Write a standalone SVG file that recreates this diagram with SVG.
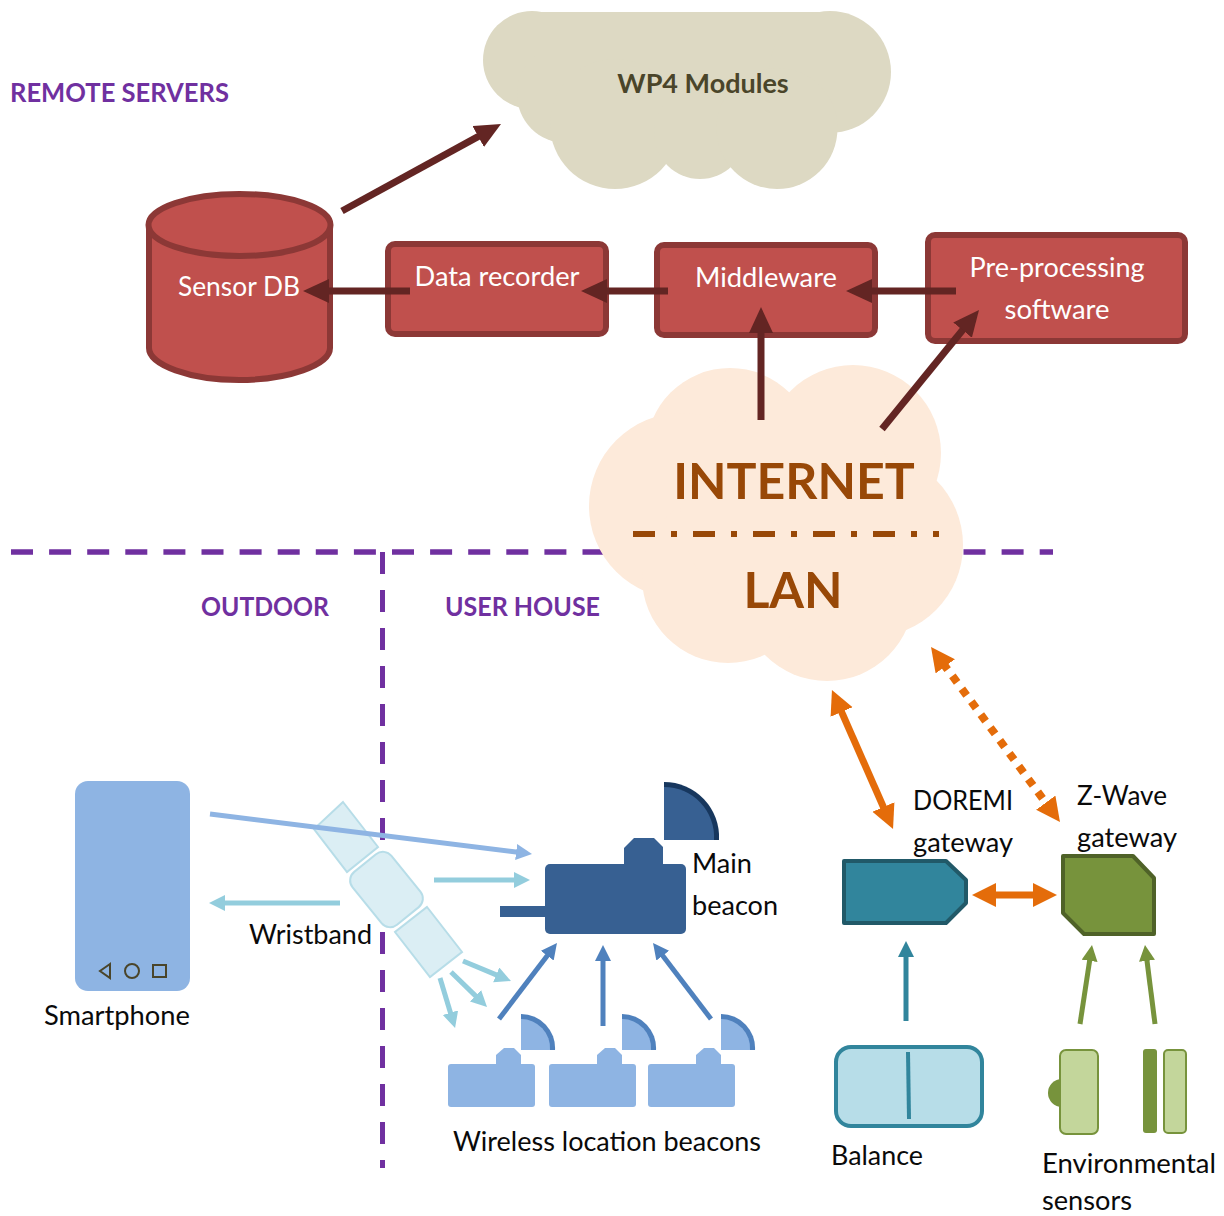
<svg xmlns="http://www.w3.org/2000/svg" width="1224" height="1216" viewBox="0 0 1224 1216">
<style>
text{font-family:"Lato","Carlito","Open Sans",sans-serif;font-size:27px;fill:#0a0a0a}
.w{fill:#fff;text-anchor:middle}
.p{fill:#7030a0;font-weight:700}
.red{fill:#c0504d;stroke:#8c3836;stroke-width:6}
.dm{fill:none;stroke:#632523;stroke-width:7}
.lb{fill:none;stroke:#93cddd;stroke-width:5}
.bl{fill:none;stroke:#4f81bd;stroke-width:5}
.gr{fill:none;stroke:#77933c;stroke-width:5}
.or{fill:none;stroke:#e46c0a;stroke-width:7}
.band{fill:#dbeef4;stroke:#b7dde8;stroke-width:2}
.lan{font-size:50px;font-weight:700;fill:#984807;text-anchor:middle}
</style>
<defs>
<marker id="mD" markerUnits="userSpaceOnUse" markerWidth="30" markerHeight="26" refX="4" refY="12" orient="auto"><path d="M0 0L26 12L0 24z" fill="#632523"/></marker>
<marker id="mL" markerUnits="userSpaceOnUse" markerWidth="20" markerHeight="20" refX="4" refY="8" orient="auto"><path d="M0 0L16 8L0 16z" fill="#93cddd"/></marker>
<marker id="mB" markerUnits="userSpaceOnUse" markerWidth="20" markerHeight="20" refX="4" refY="8" orient="auto"><path d="M0 0L16 8L0 16z" fill="#4f81bd"/></marker>
<marker id="mP" markerUnits="userSpaceOnUse" markerWidth="20" markerHeight="20" refX="4" refY="8" orient="auto"><path d="M0 0L16 8L0 16z" fill="#8eb4e3"/></marker>
<marker id="mT" markerUnits="userSpaceOnUse" markerWidth="20" markerHeight="20" refX="4" refY="8" orient="auto"><path d="M0 0L16 8L0 16z" fill="#31859c"/></marker>
<marker id="mG" markerUnits="userSpaceOnUse" markerWidth="20" markerHeight="20" refX="4" refY="8" orient="auto"><path d="M0 0L16 8L0 16z" fill="#77933c"/></marker>
<marker id="mO" markerUnits="userSpaceOnUse" markerWidth="26" markerHeight="26" refX="4" refY="12" orient="auto-start-reverse"><path d="M0 0L24 12L0 24z" fill="#e46c0a"/></marker>
</defs>

<g id="section-lines" fill="none" stroke="#7030a0">
<path stroke-width="5.500" stroke-dasharray="22 16.100" d="M11 552H1053"/>
<path stroke-width="5" stroke-dasharray="22 16" d="M382.500 552V1168"/>
</g>
<text class="p" x="10" y="102" textLength="219" lengthAdjust="spacingAndGlyphs">REMOTE SERVERS</text>
<text class="p" x="201" y="616" textLength="128" lengthAdjust="spacingAndGlyphs">OUTDOOR</text>
<text class="p" x="445" y="616" textLength="155" lengthAdjust="spacingAndGlyphs">USER HOUSE</text>

<g id="wp4-modules" fill="#ddd9c3">
<circle cx="532" cy="60" r="49"/><circle cx="566" cy="94" r="49"/>
<rect x="535" y="12" width="295" height="118"/>
<circle cx="830" cy="72" r="61"/>
<circle cx="615" cy="124" r="65"/><circle cx="700" cy="133" r="46"/><circle cx="777" cy="128.500" r="60.500"/>
<text x="703" y="93" text-anchor="middle" style="fill:#4a452a;font-weight:700">WP4 Modules</text>
</g>

<g id="internet-lan" fill="#fdeada">
<circle cx="730" cy="452" r="84"/><circle cx="853" cy="453" r="88"/><circle cx="682" cy="506" r="93"/><circle cx="871" cy="545" r="92"/><circle cx="827" cy="594" r="87"/><circle cx="728" cy="577" r="86"/><circle cx="790" cy="510" r="110"/>
<text class="lan" x="794" y="499">INTERNET</text>
<path d="M633 534H939" fill="none" stroke="#984807" stroke-width="6" stroke-dasharray="22 16 6 16"/>
<text class="lan" x="793" y="608">LAN</text>
</g>

<g id="sensor-db">
<path class="red" d="M149 225V348C149 365 190 380 239 380S330 365 330 348V225z"/>
<ellipse class="red" cx="239.500" cy="225" rx="91" ry="31"/>
<text class="w" x="239" y="296" textLength="122" lengthAdjust="spacingAndGlyphs">Sensor DB</text>
</g>
<g id="data-recorder"><rect class="red" x="388" y="244" width="218" height="90" rx="7"/><text class="w" x="497" y="286" textLength="165" lengthAdjust="spacingAndGlyphs">Data recorder</text></g>
<g id="middleware"><rect class="red" x="657" y="245" width="218" height="90" rx="7"/><text class="w" x="766" y="287" textLength="142" lengthAdjust="spacingAndGlyphs">Middleware</text></g>
<g id="pre-processing"><rect class="red" x="928" y="235" width="257" height="106" rx="7"/><text class="w" x="1057" y="277" textLength="175" lengthAdjust="spacingAndGlyphs">Pre-processing</text><text class="w" x="1057" y="319" textLength="105" lengthAdjust="spacingAndGlyphs">software</text></g>

<g id="smartphone">
<rect x="75" y="781" width="115" height="210" rx="13" fill="#8eb4e3"/>
<path d="M110 964L100 971L110 978z" fill="none" stroke="#4a452a" stroke-width="2"/>
<circle cx="132" cy="971" r="7" fill="none" stroke="#4a452a" stroke-width="2"/>
<rect x="153" y="965" width="13" height="12" fill="none" stroke="#4a452a" stroke-width="2"/>
<text x="44" y="1025" textLength="146" lengthAdjust="spacingAndGlyphs">Smartphone</text>
</g>
<g id="wristband">
<path class="band" d="M343 802L378 847L347 872L314 829z"/>
<rect class="band" x="352.500" y="864.500" width="68" height="50" rx="11" transform="rotate(51 386.500 889.500)"/>
<path class="band" d="M427 907L462 952L430 977L395 932z"/>
<text x="249" y="944" textLength="123" lengthAdjust="spacingAndGlyphs">Wristband</text>
</g>

<g id="main-beacon" fill="#376092">
<path d="M664 782A55 55 0 0 1 719 840H664z" fill="#17375e"/>
<path d="M664 787A50 50 0 0 1 714 840H664z"/>
<path d="M624 865V848L634 838H654L663 847V865z"/>
<rect x="545" y="864" width="141" height="70" rx="5"/>
<rect x="500" y="906" width="46" height="11"/>
<text x="692" y="873" textLength="60" lengthAdjust="spacingAndGlyphs">Main</text><text x="692" y="915" textLength="86" lengthAdjust="spacingAndGlyphs">beacon</text>
</g>
<g id="beacon-1" fill="#8eb4e3">
<path d="M521 1014A34 34 0 0 1 555 1050H521z" fill="#4f81bd"/><path d="M521 1019A29 29 0 0 1 550 1050H521z"/>
<path d="M496 1065V1055L504 1048H514L521 1055V1065z"/><rect x="448" y="1064" width="87" height="43" rx="3"/>
</g>
<g id="beacon-2" fill="#8eb4e3">
<path d="M622 1014A34 34 0 0 1 656 1050H622z" fill="#4f81bd"/><path d="M622 1019A29 29 0 0 1 651 1050H622z"/>
<path d="M597 1065V1055L605 1048H615L622 1055V1065z"/><rect x="549" y="1064" width="87" height="43" rx="3"/>
</g>
<g id="beacon-3" fill="#8eb4e3">
<path d="M721 1014A34 34 0 0 1 755 1050H721z" fill="#4f81bd"/><path d="M721 1019A29 29 0 0 1 750 1050H721z"/>
<path d="M696 1065V1055L704 1048H714L721 1055V1065z"/><rect x="648" y="1064" width="87" height="43" rx="3"/>
</g>
<text x="453" y="1151" textLength="308" lengthAdjust="spacingAndGlyphs">Wireless location beacons</text>

<g id="doremi-gateway">
<path d="M844 861H946L966 880V903L946 923H844z" fill="#31859c" stroke="#215968" stroke-width="4" stroke-linejoin="round"/>
<text x="913" y="810" textLength="100" lengthAdjust="spacingAndGlyphs">DOREMI</text><text x="913" y="852" textLength="100" lengthAdjust="spacingAndGlyphs">gateway</text>
</g>
<g id="zwave-gateway">
<path d="M1063 856H1133L1154 878V934H1084L1063 913z" fill="#77933c" stroke="#4f6228" stroke-width="4" stroke-linejoin="round"/>
<text x="1077" y="805" textLength="90" lengthAdjust="spacingAndGlyphs">Z-Wave</text><text x="1077" y="847" textLength="100" lengthAdjust="spacingAndGlyphs">gateway</text>
</g>
<g id="balance">
<rect x="836" y="1047" width="146" height="79" rx="15" fill="#b7dde8" stroke="#31859c" stroke-width="4"/>
<path d="M908 1052L909 1119" stroke="#31859c" stroke-width="4"/>
<text x="831" y="1165" textLength="92" lengthAdjust="spacingAndGlyphs">Balance</text>
</g>
<g id="environmental-sensors">
<circle cx="1062" cy="1093" r="14" fill="#77933c"/>
<rect x="1060" y="1050" width="38" height="84" rx="6" fill="#c3d69b" stroke="#77933c" stroke-width="2"/>
<rect x="1143" y="1049" width="14" height="84" rx="3" fill="#77933c"/>
<rect x="1164" y="1050" width="22" height="83" rx="4" fill="#c3d69b" stroke="#77933c" stroke-width="2"/>
<text x="1042" y="1173" textLength="174" lengthAdjust="spacingAndGlyphs">Environmental</text><text x="1042" y="1210" textLength="90" lengthAdjust="spacingAndGlyphs">sensors</text>
</g>

<g id="connectors">
<path class="dm" marker-end="url(#mD)" d="M342 211L481.700 134.600"/>
<path class="dm" marker-end="url(#mD)" d="M410 291H325"/>
<path class="dm" marker-end="url(#mD)" d="M668 291H603"/>
<path class="dm" marker-end="url(#mD)" d="M956 291H868"/>
<path class="dm" marker-end="url(#mD)" d="M761 420V329"/>
<path class="dm" marker-end="url(#mD)" d="M882 429L965.100 327"/>
<path fill="none" stroke="#8eb4e3" stroke-width="5" marker-end="url(#mP)" d="M210 814L520.100 852.500"/>
<path class="lb" marker-end="url(#mL)" d="M434 880H518"/>
<path class="lb" marker-end="url(#mL)" d="M340 903H221"/>
<path class="lb" marker-end="url(#mL)" d="M463 961L499.900 976.400"/>
<path class="lb" marker-end="url(#mL)" d="M451 972L478.400 998.600"/>
<path class="lb" marker-end="url(#mL)" d="M440 978L451.600 1016.500"/>
<path class="bl" marker-end="url(#mB)" d="M499 1019L549.700 952.500"/>
<path class="bl" marker-end="url(#mB)" d="M603 1026V957"/>
<path class="bl" marker-end="url(#mB)" d="M711 1019L660.300 952.500"/>
<path class="or" marker-start="url(#mO)" marker-end="url(#mO)" d="M840 708.300L885 810.700"/>
<path class="or" style="stroke-width:8" stroke-dasharray="8 8" marker-start="url(#mO)" marker-end="url(#mO)" d="M942.900 663.100L1048.100 805.900"/>
<path class="or" marker-start="url(#mO)" marker-end="url(#mO)" d="M992 895H1037"/>
<path fill="none" stroke="#31859c" stroke-width="5" marker-end="url(#mT)" d="M906 1021V953"/>
<path class="gr" marker-end="url(#mG)" d="M1080 1024L1090.200 956.900"/>
<path class="gr" marker-end="url(#mG)" d="M1155 1024L1146.500 956.900"/>
</g>
</svg>
